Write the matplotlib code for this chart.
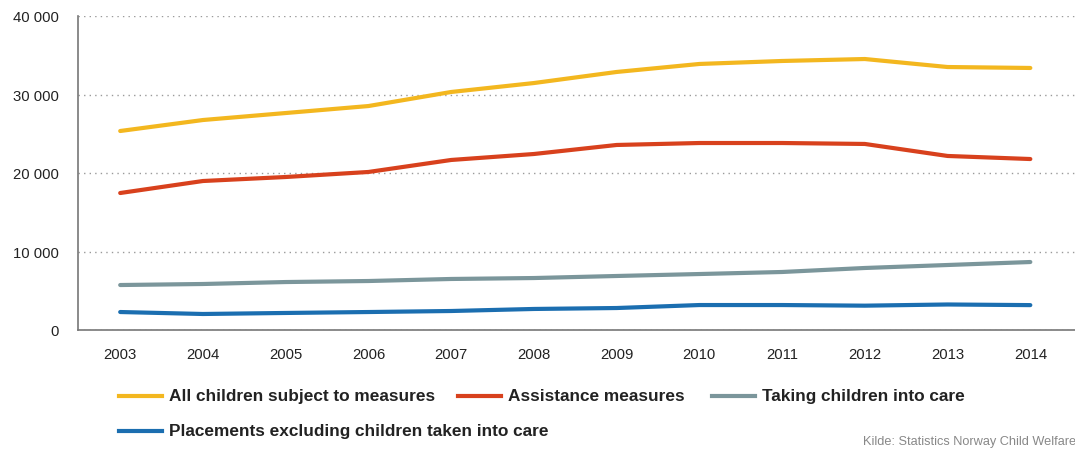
import matplotlib
matplotlib.use("Agg")
import matplotlib.pyplot as plt
from matplotlib.lines import Line2D
from matplotlib.ticker import FuncFormatter

years = [2003, 2004, 2005, 2006, 2007, 2008, 2009, 2010, 2011, 2012, 2013, 2014]
all_children = [25350, 26750, 27640, 28530, 30320, 31460, 32870, 33890, 34270, 34520, 33500, 33380]
assistance = [17450, 18980, 19490, 20130, 21660, 22420, 23570, 23820, 23820, 23700, 22170, 21780]
care_orders = [5730, 5860, 6110, 6240, 6500, 6620, 6880, 7130, 7390, 7900, 8280, 8660]
placements = [2290, 2040, 2170, 2290, 2420, 2680, 2800, 3180, 3180, 3100, 3250, 3170]

series_names = ["All children subject to measures", "Assistance measures",
                "Taking children into care", "Placements excluding children taken into care"]
colors = ["#F3B71F", "#D8411D", "#7B969B", "#1B6EB0"]
y_ticks = [0, 10000, 20000, 30000, 40000]
source = "Kilde: Statistics Norway Child Welfare"

plt.rcParams['font.family'] = ['Liberation Sans', 'DejaVu Sans']

fig = plt.figure(figsize=(10.75, 4.52), dpi=100)
ax = fig.add_axes([78/1075, 1-331/452, 1-78/1075, (331-17)/452])

for vals, c, name in zip([all_children, assistance, care_orders, placements], colors, series_names):
    ax.plot(years, vals, color=c, lw=3, solid_capstyle='round', label=name, zorder=3)

ax.set_xlim(2002.49, 2014.54)
ax.set_ylim(0, 40000)
ax.set_yticks(y_ticks)
ax.yaxis.set_major_formatter(FuncFormatter(lambda v, p: f"{int(v):,}".replace(",", " ")))
ax.set_xticks(years)
ax.set_xticklabels([str(y) for y in years])
ax.yaxis.grid(True, linestyle=(0, (1, 3)), color="#9a9a9a", lw=1)
ax.set_axisbelow(True)
for s in ["top", "right"]:
    ax.spines[s].set_visible(False)
ax.spines["left"].set_color("#777777")
ax.spines["bottom"].set_color("#777777")
ax.spines["left"].set_linewidth(1.2)
ax.spines["bottom"].set_linewidth(1.2)
ax.tick_params(axis='both', length=0, labelsize=10.7, colors="#222222")
ax.tick_params(axis='y', pad=14)
ax.tick_params(axis='x', pad=12)

# legend drawn manually: (line start x, row y, series index)
entries = [(119, 397, 0), (458, 397, 1), (712, 397, 2), (119, 432, 3)]
for x, y, i in entries:
    yf = 1 - y/452
    fig.add_artist(Line2D([x/1075, (x+43)/1075], [yf, yf], color=colors[i], lw=3,
                          transform=fig.transFigure))
    fig.text((x+50)/1075, yf, series_names[i], fontsize=12.4, fontweight='bold',
             color="#222222", va='center', ha='left')

fig.text(863/1075, 1-442/452, source, fontsize=9.2, color="#888888", ha='left', va='center')

fig.savefig("out.png", dpi=100)
